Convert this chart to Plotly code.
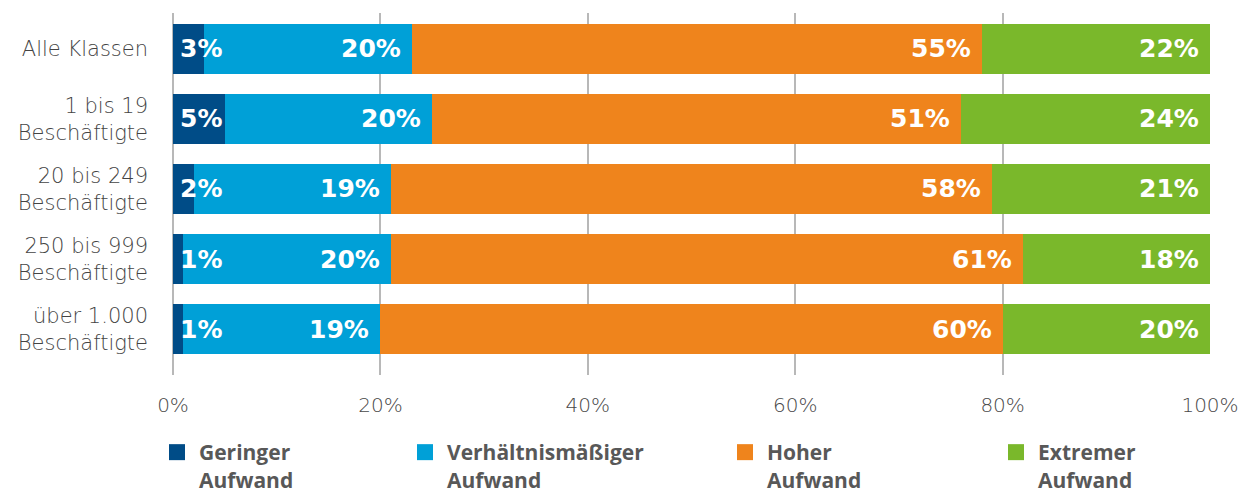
import plotly.graph_objects as go

categories = ["Alle Klassen", "1 bis 19<br>Beschäftigte", "20 bis 249<br>Beschäftigte",
              "250 bis 999<br>Beschäftigte", "über 1.000<br>Beschäftigte"]
series_names = ["Geringer<br>Aufwand", "Verhältnismäßiger<br>Aufwand", "Hoher<br>Aufwand", "Extremer<br>Aufwand"]
geringer = [3, 5, 2, 1, 1]
verhaeltnis = [20, 20, 19, 20, 19]
hoher = [55, 51, 58, 61, 60]
extremer = [22, 24, 21, 18, 20]
x_ticks = [0, 20, 40, 60, 80, 100]
x_tick_labels = ["0%", "20%", "40%", "60%", "80%", "100%"]

colors = ["#004C87", "#00A0D7", "#EF841C", "#7AB82B"]
series = [geringer, verhaeltnis, hoher, extremer]
legend_ids = ["legend", "legend2", "legend3", "legend4"]
legend_px = [169, 417, 737, 1008]

L, R, T, B = 173, 37, 13, 118
W, H = 1247, 493
pw = W - L - R
ph = H - T - B

fig = go.Figure()
for name, vals, col in zip(series_names, series, colors):
    fig.add_trace(go.Bar(
        y=categories, x=vals, orientation="h", name=name,
        marker=dict(color=col, line=dict(width=0)),
        showlegend=False, hoverinfo="skip",
    ))

# legend-only traces (square markers)
for name, col, lid in zip(series_names, colors, legend_ids):
    fig.add_trace(go.Scatter(
        x=[None], y=[None], mode="markers", name=name,
        marker=dict(symbol="square", size=20, color=col),
        legend=lid, showlegend=True,
    ))

label_font = dict(family="DejaVu Sans", size=25, color="white", weight="bold")
annotations = []
for ci, cat in enumerate(categories):
    start = 0
    for vals in series:
        v = vals[ci]
        end = start + v
        if v < 6:
            annotations.append(dict(x=start, y=cat, text=f"{v}%", xanchor="left", xshift=5,
                                    showarrow=False, font=label_font))
        else:
            annotations.append(dict(x=end, y=cat, text=f"{v}%", xanchor="right", xshift=-9,
                                    showarrow=False, font=label_font))
        start = end

legend_common = dict(
    orientation="h", yanchor="top", xanchor="left", valign="top",
    font=dict(family="Open Sans", size=21, color="#585858", weight="bold"),
    bgcolor="rgba(0,0,0,0)", borderwidth=0, itemsizing="trace", itemwidth=34,
)
layout_legends = {}
for lid, px in zip(legend_ids, legend_px):
    layout_legends[lid] = dict(legend_common, x=(px - 14 - L) / pw, y=-(432 - (T + ph)) / ph)

tick_font = dict(family="DejaVu Sans", size=20, color="#484848", weight=200)
cat_font = dict(family="DejaVu Sans", size=21, color="#444444", weight=200)

fig.update_layout(
    width=W, height=H,
    margin=dict(l=L, r=R, t=T, b=B, pad=0, autoexpand=False),
    paper_bgcolor="white", plot_bgcolor="white",
    barmode="stack", bargap=0.2857,
    font=dict(family="DejaVu Sans", color="#555555"),
    annotations=annotations,
    xaxis=dict(
        range=[0, 100], tickvals=x_ticks, ticktext=x_tick_labels,
        showgrid=True, gridcolor="#B8B8B8", gridwidth=1.5,
        zeroline=True, zerolinecolor="#B8B8B8", zerolinewidth=1.5,
        showline=False, ticks="", ticklabelstandoff=16,
        tickfont=tick_font, automargin=False,
        fixedrange=True,
    ),
    yaxis=dict(
        range=[4.657, -0.514], showgrid=False, zeroline=False, showline=False,
        ticks="", ticklabelstandoff=24,
        tickfont=cat_font, automargin=False,
        fixedrange=True,
    ),
    **layout_legends,
)

fig.write_html("out.html")
